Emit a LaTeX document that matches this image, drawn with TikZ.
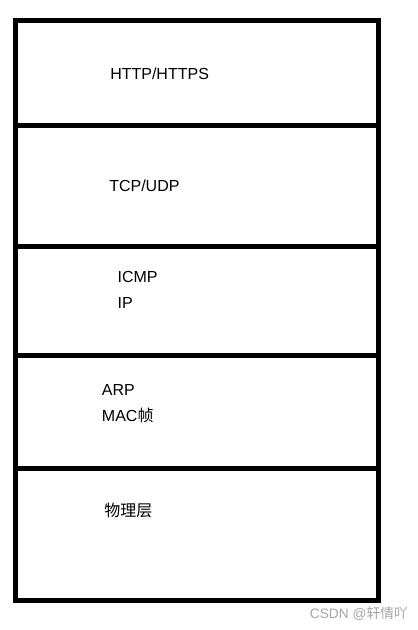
\documentclass[tikz,border=0pt]{standalone}
\usepackage{fontspec}
\setmainfont{Liberation Sans}
\newfontfamily\cjk{Noto Sans CJK SC}
\begin{document}
\begin{tikzpicture}[x=0.75pt,y=-0.75pt,
  layerline/.style={line width=3.75pt},
  lbl/.style={anchor=base west,inner sep=0pt,font=\fontsize{12pt}{14pt}\selectfont},
  wm/.style={anchor=base east,inner sep=0pt,text=black!35,font=\fontsize{10.3pt}{12pt}\selectfont}]
\useasboundingbox (0,0) rectangle (417,630);
\fill[white] (0,0) rectangle (417,630);
\draw[layerline] (15.5,20.5) rectangle (378.5,600.5);
\draw[layerline] (15.5,125.5) -- (378.5,125.5);
\draw[layerline] (15.5,246.5) -- (378.5,246.5);
\draw[layerline] (15.5,355) -- (378.5,355);
\draw[layerline] (15.5,468) -- (378.5,468);
\node[lbl] (http) at (110,79.3) {HTTP/HTTPS};
\node[lbl] (tcp) at (109,191.7) {TCP/UDP};
\node[lbl] (icmp) at (117.3,282.7) {ICMP};
\node[lbl] (ip) at (117.3,308.3) {IP};
\node[lbl] (arp) at (101.7,395) {ARP};
\node[lbl] (mac) at (101.7,421) {MAC{\cjk 帧}};
\node[lbl] (phy) at (104,516.5) {\cjk 物理层};
\node[wm] (mark) at (408,618) {CSDN @{\cjk 轩情吖}};
\end{tikzpicture}
\end{document}
